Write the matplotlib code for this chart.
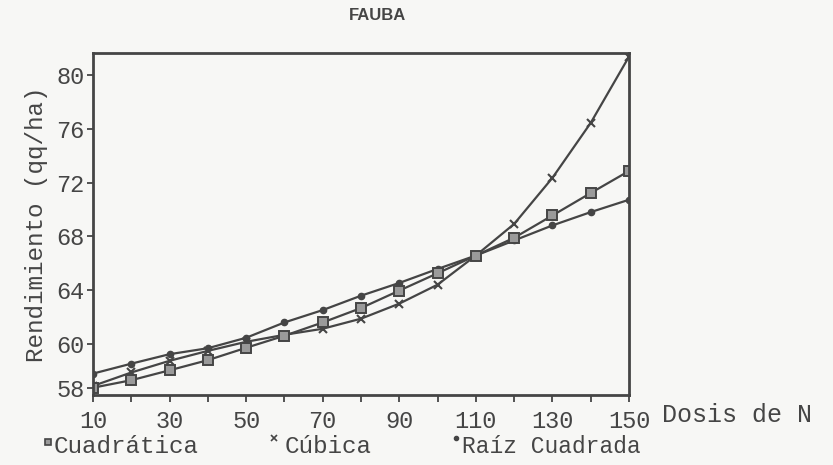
import numpy as np
import matplotlib
matplotlib.use("Agg")
import matplotlib.pyplot as plt
from matplotlib.lines import Line2D

# ---- data ----
dosis = [10, 20, 30, 40, 50, 60, 70, 80, 90, 100, 110, 120, 130, 140, 150]
cuadratica = [58.01, 58.35, 58.80, 59.26, 59.82, 60.60, 61.59, 62.66, 63.96, 65.25,
              66.57, 67.89, 69.55, 71.22, 72.86]
cubica = [58.09, 58.70, 59.23, 59.68, 60.15, 60.67, 61.12, 61.87, 62.99, 64.40,
          66.57, 68.92, 72.35, 76.44, 81.37]
raiz = [58.65, 59.10, 59.53, 59.80, 60.45, 61.59, 62.51, 63.58, 64.53, 65.57,
        66.57, 67.69, 68.81, 69.80, 70.72]
yticks = [58, 60, 64, 68, 72, 76, 80]
xticks_major = [10, 30, 50, 70, 90, 110, 130, 150]
xticks_minor = [20, 40, 60, 80, 100, 120, 140]

INK = "#454545"
BG = "#f7f7f5"
MONO = ["Liberation Mono", "DejaVu Sans Mono"]

# y axis of the original: the 58-60 band is stretched compared with 60-80
K = 22.0 / 13.4


def fwd(v):
    v = np.asarray(v, dtype=float)
    return np.where(v < 60, 60 + (v - 60) * K, v)


def inv(u):
    u = np.asarray(u, dtype=float)
    return np.where(u < 60, 60 + (u - 60) / K, u)


fig = plt.figure(figsize=(8.33, 4.65), dpi=100, facecolor=BG)
ax = fig.add_axes([93 / 833, 1 - 395 / 465, (629 - 93) / 833, (395 - 53) / 465])
ax.set_facecolor(BG)
ax.set_yscale("function", functions=(fwd, inv))

lw = 1.6
ax.plot(dosis, raiz, color=INK, lw=lw, marker="o", ms=4.5, mfc=INK, mec=INK)
ax.plot(dosis, cubica, color=INK, lw=lw, marker="x", ms=6, mew=1.5)
ax.plot(dosis, cuadratica, color=INK, lw=lw, marker="s", ms=7, mfc="#9a9a9a",
        mec=INK, mew=1.4)

ax.set_xlim(10, 150)
ax.set_ylim(57.68, 81.64)
ax.set_yticks(yticks)
ax.set_yticklabels([str(t) for t in yticks])
ax.set_xticks(xticks_major)
ax.set_xticklabels([str(t) for t in xticks_major])
ax.set_xticks(xticks_minor, minor=True)
ax.yaxis.set_minor_locator(matplotlib.ticker.NullLocator())

for s in ax.spines.values():
    s.set_color(INK)
    s.set_linewidth(2.0)

ax.tick_params(axis="both", which="both", direction="out", color=INK,
               labelcolor=INK, width=1.3)
ax.tick_params(axis="x", which="both", length=5, pad=6)
ax.tick_params(axis="y", length=4, pad=2)
for lab in ax.get_xticklabels() + ax.get_yticklabels():
    lab.set_family(MONO)
    lab.set_fontsize(17)

ax.set_ylabel("Rendimiento (qq/ha)", family=MONO, fontsize=17.5, color=INK,
              labelpad=6)

fig.text(662 / 833, 1 - 415 / 465, "Dosis de N", family=MONO, fontsize=18,
         color=INK, va="center", ha="left")

fig.text(378 / 833, 1 - 16 / 465, "FAUBA", family=["Liberation Sans", "DejaVu Sans"],
         fontsize=12, color=INK, ha="center", va="center", fontweight="bold")

# legend as in the original: small marker glyph followed by text
ly = 1 - 446 / 465
fig.add_artist(Line2D([48 / 833], [1 - 442 / 465], marker="s", ms=5, mfc="#9a9a9a",
                      mec=INK, mew=1.2, ls="none", transform=fig.transFigure))
fig.text(54 / 833, ly, "Cuadrática", family=MONO, fontsize=17.5, color=INK,
         va="center", ha="left")
fig.add_artist(Line2D([274 / 833], [1 - 438 / 465], marker="x", ms=4, mew=1.2,
                      color=INK, ls="none", transform=fig.transFigure))
fig.text(285 / 833, ly, "Cúbica", family=MONO, fontsize=17.5, color=INK,
         va="center", ha="left")
fig.add_artist(Line2D([456 / 833], [1 - 438 / 465], marker="o", ms=3, color=INK,
                      ls="none", transform=fig.transFigure))
fig.text(462 / 833, ly, "Raíz Cuadrada", family=MONO, fontsize=16.5, color=INK,
         va="center", ha="left")

fig.savefig("out.png", dpi=100, facecolor=BG)
